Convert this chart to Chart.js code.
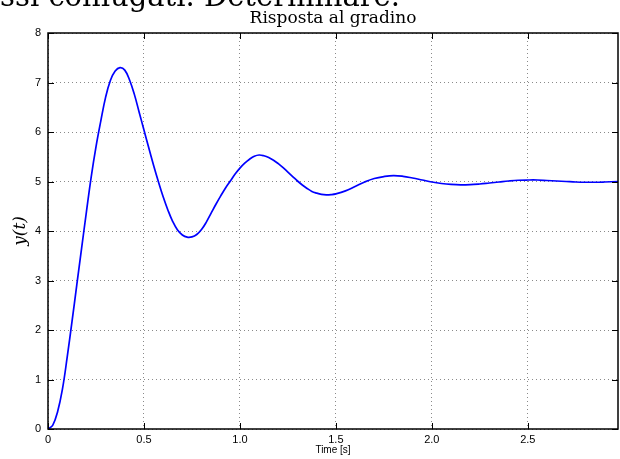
<!DOCTYPE html>
<html>
<head>
<meta charset="utf-8">
<script src="https://cdn.jsdelivr.net/npm/chart.js@4.4.1/dist/chart.umd.min.js"></script>
<style>
  html, body { margin: 0; padding: 0; background: #fff; }
  #wrap { width: 620px; height: 459px; position: relative; }
</style>
</head>
<body>
<div id="wrap"><canvas id="chart" width="620" height="459"></canvas></div>
<script>
// step response, values
const timeS = [
  0, 0.025, 0.05, 0.075, 0.1, 0.125, 0.15, 0.175, 0.2, 0.225, 0.25, 0.275, 0.3, 0.325, 0.35, 0.375,
  0.4, 0.425, 0.45, 0.475, 0.5, 0.525, 0.55, 0.575, 0.6, 0.625, 0.65, 0.675, 0.7, 0.725, 0.75,
  0.775, 0.8, 0.825, 0.85, 0.875, 0.9, 0.925, 0.95, 0.975, 1.0, 1.025, 1.05, 1.075, 1.1, 1.125,
  1.15, 1.175, 1.2, 1.225, 1.25, 1.275, 1.3, 1.325, 1.35, 1.375, 1.4, 1.425, 1.45, 1.475, 1.5,
  1.55, 1.6, 1.65, 1.7, 1.75, 1.8, 1.85, 1.9, 1.95, 2.0, 2.05, 2.1, 2.15, 2.2, 2.25, 2.3, 2.35,
  2.4, 2.45, 2.5, 2.55, 2.6, 2.65, 2.7, 2.75, 2.8, 2.85, 2.9, 2.97
];
const yOut = [
  0, 0.08, 0.35, 0.8, 1.45, 2.17, 2.91, 3.65, 4.38, 5.09, 5.7, 6.22, 6.7, 7.04, 7.23, 7.3,
  7.25, 7.05, 6.76, 6.4, 6.04, 5.68, 5.33, 5.0, 4.69, 4.42, 4.19, 4.02, 3.92, 3.875, 3.88,
  3.93, 4.03, 4.18, 4.36, 4.54, 4.71, 4.87, 5.01, 5.15, 5.27, 5.37, 5.45, 5.51, 5.535, 5.52,
  5.485, 5.43, 5.36, 5.28, 5.19, 5.1, 5.01, 4.93, 4.86, 4.8, 4.765, 4.74, 4.73, 4.735, 4.75,
  4.81, 4.9, 4.99, 5.06, 5.1, 5.12, 5.105, 5.07, 5.03, 4.99, 4.96, 4.94, 4.93, 4.935, 4.95, 4.97, 4.99,
  5.01, 5.025, 5.03, 5.03, 5.02, 5.01, 5.0, 4.99, 4.985, 4.985, 4.99, 5.0
];
const xTicks = [0, 0.5, 1, 1.5, 2, 2.5];
const yTicks = [0, 1, 2, 3, 4, 5, 6, 7, 8];
const xMax = 2.97;

const tickFont = { family: '"Liberation Sans", Arial, sans-serif', size: 11 };
const gridStyle = { color: '#8a8a8a', lineWidth: 1, drawTicks: false };

// box around the axes plus MATLAB-style inward ticks, the title and the cut-off page text
const frame = {
  id: 'frame',
  afterDraw(chart) {
    const { ctx, chartArea: a, scales } = chart;
    ctx.save();
    ctx.strokeStyle = '#000';
    ctx.lineWidth = 1;
    ctx.beginPath();
    xTicks.forEach(v => {
      const px = Math.round(scales.x.getPixelForValue(v)) + 0.5;
      ctx.moveTo(px, a.bottom); ctx.lineTo(px, a.bottom - 6);
      ctx.moveTo(px, a.top); ctx.lineTo(px, a.top + 6);
    });
    yTicks.forEach(v => {
      const py = Math.round(scales.y.getPixelForValue(v)) + 0.5;
      ctx.moveTo(a.left, py); ctx.lineTo(a.left + 6, py);
      ctx.moveTo(a.right, py); ctx.lineTo(a.right - 6, py);
    });
    ctx.stroke();
    ctx.lineWidth = 1.5;
    ctx.strokeRect(a.left, a.top, a.right - a.left, a.bottom - a.top);

    ctx.fillStyle = '#000';
    ctx.textBaseline = 'alphabetic';
    ctx.textAlign = 'center';
    ctx.font = '17px "DejaVu Serif", serif';
    ctx.fillText('Risposta al gradino', (a.left + a.right) / 2, 23);
    ctx.textAlign = 'right';
    ctx.font = '29px "DejaVu Serif", serif';
    ctx.fillText('essi coniugati. Determinare.', 400, 6);
    ctx.restore();
  }
};

new Chart(document.getElementById('chart'), {
  type: 'line',
  data: {
    datasets: [{
      data: timeS.map((t, i) => ({ x: t, y: yOut[i] })),
      borderColor: '#0000ff',
      borderWidth: 1.7,
      pointRadius: 0,
      tension: 0.4,
      fill: false
    }]
  },
  options: {
    responsive: false,
    animation: false,
    layout: { padding: { top: 33, right: 2, left: 0, bottom: 0 } },
    plugins: { legend: { display: false }, tooltip: { enabled: false }, title: { display: false } },
    scales: {
      x: {
        type: 'linear', min: 0, max: xMax,
        afterBuildTicks: s => { s.ticks = xTicks.map(v => ({ value: v })); },
        afterFit: s => { s.height = 30; },
        grid: { ...gridStyle },
        border: { display: false, dash: [1, 3] },
        ticks: { font: tickFont, color: '#000', padding: 4, maxRotation: 0 },
        title: { display: true, text: 'Time [s]', color: '#000', font: { family: '"Liberation Sans", Arial, sans-serif', size: 10 }, padding: { top: 0, bottom: 3 } }
      },
      y: {
        type: 'linear', min: 0, max: 8,
        afterBuildTicks: s => { s.ticks = yTicks.map(v => ({ value: v })); },
        afterFit: s => { s.width = 48; },
        grid: { ...gridStyle },
        border: { display: false, dash: [1, 3] },
        ticks: { font: tickFont, color: '#000', padding: 7 },
        title: { display: true, text: 'y(t)', color: '#000', font: { family: '"DejaVu Serif", serif', size: 17, style: 'italic' }, padding: { top: 10, bottom: 0 } }
      }
    }
  },
  plugins: [frame]
});
</script>
</body>
</html>
